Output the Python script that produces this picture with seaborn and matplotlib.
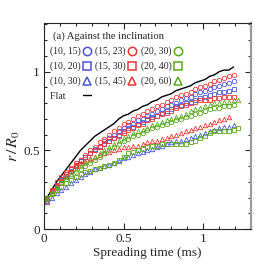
import numpy as np
import matplotlib
matplotlib.use("Agg")
import matplotlib.pyplot as plt
from matplotlib.lines import Line2D
from matplotlib.ticker import MultipleLocator
import seaborn as sns

# spreading time (ms)
t = [0.02, 0.05, 0.08, 0.11, 0.14, 0.17, 0.20, 0.23, 0.26, 0.29, 0.32, 0.35, 0.38, 0.41,
     0.44, 0.47, 0.50, 0.53, 0.56, 0.59, 0.62, 0.65, 0.68, 0.71, 0.74, 0.77, 0.80, 0.83,
     0.86, 0.89, 0.92, 0.95, 0.98, 1.01, 1.04, 1.07, 1.10, 1.13, 1.16, 1.19, 1.22]

flat = [0.20, 0.25, 0.30, 0.34, 0.38, 0.42, 0.46, 0.50, 0.53, 0.56, 0.59, 0.61, 0.63, 0.65,
        0.67, 0.70, 0.72, 0.73, 0.75, 0.76, 0.78, 0.79, 0.81, 0.82, 0.84, 0.85, 0.86, 0.88,
        0.89, 0.90, 0.91, 0.93, 0.94, 0.95, 0.97, 0.98, 1.00, 1.01, 1.01, 1.03]

r_10_15 = [0.19, 0.23, 0.27, 0.31, 0.34, 0.37, 0.40, 0.43, 0.46, 0.48, 0.51, 0.53, 0.56, 0.58,
           0.60, 0.62, 0.64, 0.66, 0.67, 0.69, 0.70, 0.72, 0.73, 0.75, 0.76, 0.78, 0.79, 0.80,
           0.82, 0.83, 0.84, 0.86, 0.87, 0.88, 0.89, 0.90, 0.91, 0.92, 0.93, 0.94]
r_10_20 = [0.20, 0.24, 0.28, 0.32, 0.35, 0.38, 0.41, 0.43, 0.46, 0.48, 0.50, 0.52, 0.54, 0.56,
           0.58, 0.60, 0.62, 0.64, 0.65, 0.67, 0.68, 0.70, 0.71, 0.72, 0.74, 0.75, 0.76, 0.78,
           0.79, 0.80, 0.81, 0.82, 0.83, 0.84, 0.85, 0.86, 0.87, 0.87, 0.88, 0.89]
r_10_30 = [0.17, 0.20, 0.23, 0.25, 0.27, 0.29, 0.31, 0.33, 0.35, 0.36, 0.38, 0.39, 0.40, 0.41,
           0.42, 0.43, 0.45, 0.46, 0.47, 0.48, 0.49, 0.50, 0.51, 0.52, 0.53, 0.54, 0.55, 0.56,
           0.56, 0.57, 0.58, 0.59, 0.60, 0.61, 0.62, 0.63, 0.64, 0.65, 0.65, 0.66]
r_15_23 = [0.20, 0.24, 0.28, 0.32, 0.35, 0.38, 0.41, 0.44, 0.47, 0.50, 0.52, 0.55, 0.57, 0.60,
           0.62, 0.64, 0.67, 0.68, 0.70, 0.72, 0.73, 0.75, 0.76, 0.78, 0.79, 0.81, 0.82, 0.84,
           0.85, 0.86, 0.87, 0.89, 0.90, 0.91, 0.92, 0.94, 0.95, 0.96, 0.97, 0.98]
r_15_30 = [0.18, 0.25, 0.30, 0.33, 0.36, 0.39, 0.42, 0.44, 0.46, 0.48, 0.50, 0.52, 0.54, 0.56,
           0.58, 0.59, 0.61, 0.63, 0.64, 0.66, 0.67, 0.69, 0.70, 0.72, 0.73, 0.74, 0.75, 0.77,
           0.78, 0.79, 0.80, 0.81, 0.82, 0.82, 0.82, 0.83, 0.83, 0.84, 0.84, 0.84]
r_15_45 = [0.20, 0.24, 0.28, 0.31, 0.34, 0.37, 0.40, 0.42, 0.43, 0.45, 0.46, 0.47, 0.48, 0.49,
           0.50, 0.51, 0.52, 0.52, 0.53, 0.53, 0.54, 0.55, 0.56, 0.56, 0.57, 0.58, 0.59, 0.60,
           0.61, 0.62, 0.63, 0.64, 0.65, 0.66, 0.67, 0.68, 0.69, 0.70, 0.71]
r_20_30 = [0.20, 0.23, 0.26, 0.29, 0.32, 0.34, 0.36, 0.38, 0.40, 0.42, 0.44, 0.46, 0.48, 0.50,
           0.52, 0.54, 0.56, 0.57, 0.59, 0.60, 0.61, 0.63, 0.64, 0.65, 0.66, 0.67, 0.68, 0.69,
           0.70, 0.71, 0.72, 0.73, 0.74, 0.75, 0.76, 0.77, 0.77, 0.78, 0.78, 0.79]
r_20_40 = [0.20, 0.22, 0.25, 0.27, 0.29, 0.31, 0.33, 0.35, 0.36, 0.37, 0.38, 0.39, 0.40, 0.41,
           0.42, 0.44, 0.46, 0.48, 0.49, 0.50, 0.51, 0.52, 0.53, 0.53, 0.54, 0.54, 0.54, 0.54,
           0.54, 0.54, 0.55, 0.56, 0.58, 0.59, 0.61, 0.62, 0.62, 0.62, 0.62, 0.63, 0.64]
r_20_60 = [0.19, 0.23, 0.27, 0.30, 0.33, 0.35, 0.38, 0.40, 0.42, 0.44, 0.46, 0.48, 0.50, 0.52,
           0.54, 0.56, 0.58, 0.59, 0.61, 0.62, 0.63, 0.64, 0.66, 0.67, 0.68, 0.69, 0.70, 0.71,
           0.72, 0.73, 0.75, 0.76, 0.77, 0.78, 0.79, 0.80, 0.80, 0.81, 0.81, 0.82, 0.82]

labels = ["(10, 15)", "(10, 20)", "(10, 30)", "(15, 23)", "(15, 30)", "(15, 45)",
          "(20, 30)", "(20, 40)", "(20, 60)"]
series = [r_10_15, r_10_20, r_10_30, r_15_23, r_15_30, r_15_45, r_20_30, r_20_40, r_20_60]

blue, red, green = "#4a55d8", "#ee3535", "#58a81e"
colors = [blue, blue, blue, red, red, red, green, green, green]
markers = ["o", "s", "^"] * 3

sns.set_style("ticks")
plt.rcParams["font.family"] = ["Liberation Serif", "DejaVu Serif"]
plt.rcParams["mathtext.fontset"] = "stix"

fig = plt.figure(figsize=(2.66, 2.66), dpi=100)
ax = fig.add_axes([0.165, 0.139, 0.779, 0.775])

sns.lineplot(x=t[:len(flat)], y=flat, color="black", lw=1.0, ax=ax)
for y, c, m in zip(series, colors, markers):
    sns.lineplot(x=t[:len(y)], y=y, ax=ax, linestyle="", marker=m, markersize=3.2,
                 markerfacecolor="none", markeredgecolor=c, markeredgewidth=0.6, color=c)

ax.set_xlim(0, 1.3)
ax.set_ylim(0, 1.31)
ax.xaxis.set_major_locator(MultipleLocator(0.5))
ax.xaxis.set_minor_locator(MultipleLocator(0.1))
ax.yaxis.set_major_locator(MultipleLocator(0.5))
ax.yaxis.set_minor_locator(MultipleLocator(0.1))
ax.xaxis.set_major_formatter(plt.FuncFormatter(lambda v, p: f"{v:g}"))
ax.yaxis.set_major_formatter(plt.FuncFormatter(lambda v, p: f"{v:g}"))
ax.tick_params(which="both", direction="in", top=True, right=True, labelsize=9.5, pad=3)
ax.tick_params(which="major", length=4, width=0.8)
ax.tick_params(which="minor", length=2.5, width=0.8)
for s in ax.spines.values():
    s.set_linewidth(0.8)
ax.spines["right"].set_color("#9a9a9a")
ax.spines["right"].set_linewidth(1.6)

ax.set_xlabel("Spreading time (ms)", fontsize=9.5, labelpad=1)
ax.set_ylabel(r"$r\,/\,R_0$", fontsize=11.5)
ax.yaxis.set_label_coords(-0.108, 0.40)

handles = []
hl = []
order = [0, 1, 2, None, 3, 4, 5, 6, 7, 8]
for i in order:
    if i is None:
        handles.append(Line2D([], [], color="black", lw=1.0))
        hl.append("Flat" + " " * 6)
    else:
        handles.append(Line2D([], [], linestyle="", marker=markers[i], markersize=6,
                              markerfacecolor="none", markeredgecolor=colors[i],
                              markeredgewidth=1.1))
        hl.append(labels[i])
leg = ax.legend(handles, hl, ncol=3, markerfirst=False, frameon=False,
                title="(a) Against the inclination", title_fontsize=7.7, fontsize=7.0,
                loc="upper left", bbox_to_anchor=(0.0, 0.985), alignment="left",
                handlelength=0.8, handletextpad=0.25, columnspacing=0.45, labelspacing=0.55,
                borderaxespad=0.2)
leg.get_title().set_position((3, 0))

fig.savefig("out.png", dpi=100)
